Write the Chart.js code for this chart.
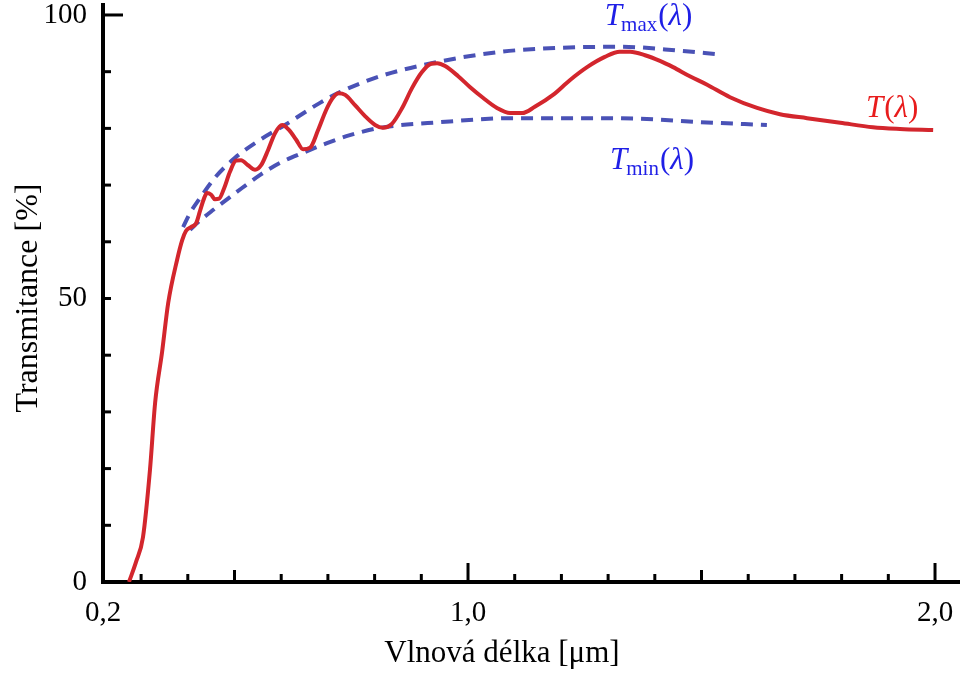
<!DOCTYPE html>
<html><head><meta charset="utf-8">
<script src="https://cdn.jsdelivr.net/npm/chart.js@4.4.1/dist/chart.umd.min.js"></script>
<style>html,body{margin:0;padding:0;background:#fff}#wrap{width:960px;height:677px;position:relative}</style>
</head><body><div id="wrap"><canvas id="c"></canvas></div>
<script>
// T(lambda) measured curve
const tLambda = [0.274,0.289,0.304,0.319,0.330,0.345,0.358,0.377,0.388,0.396,0.407,0.418,0.426,0.435,0.441,0.450,0.458,0.467,0.478,0.490,0.503,0.514,0.529,0.544,0.557,0.572,0.587,0.602,0.617,0.632,0.647,0.662,0.679,0.696,0.709,0.722,0.737,0.758,0.779,0.801,0.818,0.837,0.859,0.880,0.901,0.921,0.934,0.951,0.979,1.004,1.032,1.062,1.090,1.116,1.143,1.182,1.218,1.255,1.293,1.325,1.347,1.379,1.411,1.439,1.475,1.512,1.561,1.619,1.668,1.726,1.797,1.867,1.925,1.996];
const tValues = [0,3.5,7.9,19.8,31.6,40.6,49.2,56.8,60.3,61.9,62.6,63.3,65.4,67.7,68.6,68.3,67.5,67.6,69.5,72.3,74.3,74.4,73.5,72.7,73.5,76.2,79.2,80.6,79.7,78.0,76.3,76.6,79.7,83.2,85.2,86.2,85.9,84.1,82.2,80.6,80.1,80.8,83.6,87.1,89.9,91.4,91.5,91.0,89.2,87.3,85.4,83.6,82.7,82.7,83.8,85.9,88.5,90.8,92.6,93.5,93.5,92.9,91.9,90.8,89.2,87.7,85.5,83.6,82.5,81.8,81.0,80.2,79.9,79.7];
// Envelope T_max(lambda)
const tmaxLambda = [0.390,0.405,0.426,0.458,0.501,0.555,0.608,0.683,0.726,0.812,0.934,1.069,1.197,1.325,1.454,1.533];
const tmaxValues = [62.6,65.1,67.7,71.3,74.8,78.0,80.6,84.5,86.4,89.2,91.7,93.5,94.2,94.4,93.7,93.1];
// Envelope T_min(lambda)
const tminLambda = [0.405,0.420,0.454,0.505,0.555,0.597,0.647,0.698,0.747,0.812,0.940,1.096,1.240,1.368,1.497,1.640];
const tminValues = [62.1,63.3,65.6,68.8,71.8,73.9,75.7,77.4,78.8,80.1,81.1,81.8,81.8,81.7,81.1,80.6];

const xAxisMin = 0.2184, xAxisMax = 2.0535;
const yAxisMin = 0, yAxisMax = 101.76;
const xTickValues = [0.3,0.4,0.5,0.6,0.7,0.8,0.9,1.0,1.1,1.2,1.3,1.4,1.5,1.6,1.7,1.8,1.9,2.0];
const xLongTicks = [1.0,2.0];
const xMidTicks = [0.5,1.5];
const xLabelValues = [xAxisMin,1.0,2.0];
const xLabelTexts = ['0,2','1,0','2,0'];
const yTickValues = [10,20,30,40,50,60,70,80,90,100];
const yLongTicks = [100];
const yLabelValues = [0,50,100];
const yLabelTexts = ['0','50','100'];
const xTitle = 'Vlnová délka [μm]';
const yTitle = 'Transmitance [%]';

const RED = '#d3262d', BLUE = '#4a52b6';
const SERIF = '"Liberation Serif", "DejaVu Serif", serif';

const annotations = [
  {x:1.293, y:98.2, color:'#1f1fe6', sub:'max'},
  {x:1.304, y:72.8, color:'#1f1fe6', sub:'min'},
  {x:1.852, y:82.0, color:'#e81c1c', sub:null}
];

function pts(xs, ys){ return xs.map((x,i)=>({x:x, y:ys[i]})); }

const overlay = {
  id:'overlay',
  afterDraw(chart){
    const ctx = chart.ctx, xs = chart.scales.x, ys = chart.scales.y;
    const ca = chart.chartArea;
    ctx.save();
    ctx.strokeStyle = '#000'; ctx.lineWidth = 3; ctx.lineCap='butt';
    xTickValues.forEach(v=>{
      const px = xs.getPixelForValue(v);
      let len = 8;
      if (xLongTicks.includes(v)) len = 19; else if (xMidTicks.includes(v)) len = 12;
      ctx.beginPath(); ctx.moveTo(px, ca.bottom); ctx.lineTo(px, ca.bottom - len); ctx.stroke();
    });
    yTickValues.forEach(v=>{
      const py = ys.getPixelForValue(v);
      let len = 8;
      if (yLongTicks.includes(v)) len = 20;
      ctx.beginPath(); ctx.moveTo(ca.left, py); ctx.lineTo(ca.left + len, py); ctx.stroke();
    });
    // axis titles
    ctx.fillStyle = '#000';
    ctx.font = '31px ' + SERIF;
    ctx.textAlign = 'center'; ctx.textBaseline = 'alphabetic';
    ctx.fillText(xTitle, 502, 662);
    ctx.translate(37, 298); ctx.rotate(-Math.PI/2);
    ctx.font = '32px ' + SERIF;
    ctx.fillText(yTitle, 0, 0);
    ctx.restore();
    // math annotations
    annotations.forEach(a=>{
      let x = xs.getPixelForValue(a.x), y = ys.getPixelForValue(a.y);
      ctx.save();
      ctx.fillStyle = a.color; ctx.textBaseline='alphabetic'; ctx.textAlign='left';
      const parts = [{t:'T', f:'italic 31px '+SERIF, dy:0}];
      if (a.sub) parts.push({t:a.sub, f:'21px '+SERIF, dy:6, pre:-1});
      parts.push({t:'(', f:'31px '+SERIF, dy:0, pre:1},{t:'λ', f:'italic 31px '+SERIF, dy:0},{t:')', f:'31px '+SERIF, dy:0});
      parts.forEach(p=>{
        ctx.font = p.f; x += (p.pre||0);
        ctx.fillText(p.t, x, y + p.dy);
        x += ctx.measureText(p.t).width;
      });
      ctx.restore();
    });
  }
};

new Chart(document.getElementById('c'), {
  type:'line',
  data:{ datasets:[
    {label:'T(λ)', data:pts(tLambda,tValues), borderColor:RED, borderWidth:4, pointRadius:0, cubicInterpolationMode:'monotone', fill:false, order:1},
    {label:'Tmax(λ)', data:pts(tmaxLambda,tmaxValues), borderColor:BLUE, borderWidth:4, borderDash:[12,8], pointRadius:0, cubicInterpolationMode:'monotone', fill:false, order:2},
    {label:'Tmin(λ)', data:pts(tminLambda,tminValues), borderColor:BLUE, borderWidth:4, borderDash:[12,8], pointRadius:0, cubicInterpolationMode:'monotone', fill:false, order:2}
  ]},
  options:{
    responsive:true, maintainAspectRatio:false, animation:false,
    layout:{padding:{top:5,left:0,right:0,bottom:0}},
    plugins:{legend:{display:false}, tooltip:{enabled:false}},
    scales:{
      x:{ type:'linear', min:xAxisMin, max:xAxisMax,
        grid:{display:false, drawTicks:false},
        border:{display:true, color:'#000', width:4},
        afterBuildTicks(s){ s.ticks = xLabelValues.map(v=>({value:v})); },
        afterFit(s){ s.height = 95; s.paddingLeft = 0; s.paddingRight = 0; s.paddingTop = 0; s.paddingBottom = 0; },
        ticks:{ autoSkip:false, maxRotation:0, padding:14, color:'#000', font:{family:SERIF, size:29},
          callback(v){ const i = xLabelValues.findIndex(t=>Math.abs(t-v)<1e-6); return i>=0 ? xLabelTexts[i] : ''; } }
      },
      y:{ type:'linear', min:yAxisMin, max:yAxisMax,
        grid:{display:false, drawTicks:false},
        border:{display:true, color:'#000', width:4},
        afterBuildTicks(s){ s.ticks = yLabelValues.map(v=>({value:v})); },
        afterFit(s){ s.width = 103; s.paddingTop = 0; s.paddingBottom = 0; s.paddingLeft = 0; s.paddingRight = 0; },
        ticks:{ autoSkip:false, padding:16, color:'#000', font:{family:SERIF, size:29},
          callback(v){ const i = yLabelValues.indexOf(v); return i>=0 ? yLabelTexts[i] : ''; } }
      }
    }
  },
  plugins:[overlay]
});
</script></body></html>
